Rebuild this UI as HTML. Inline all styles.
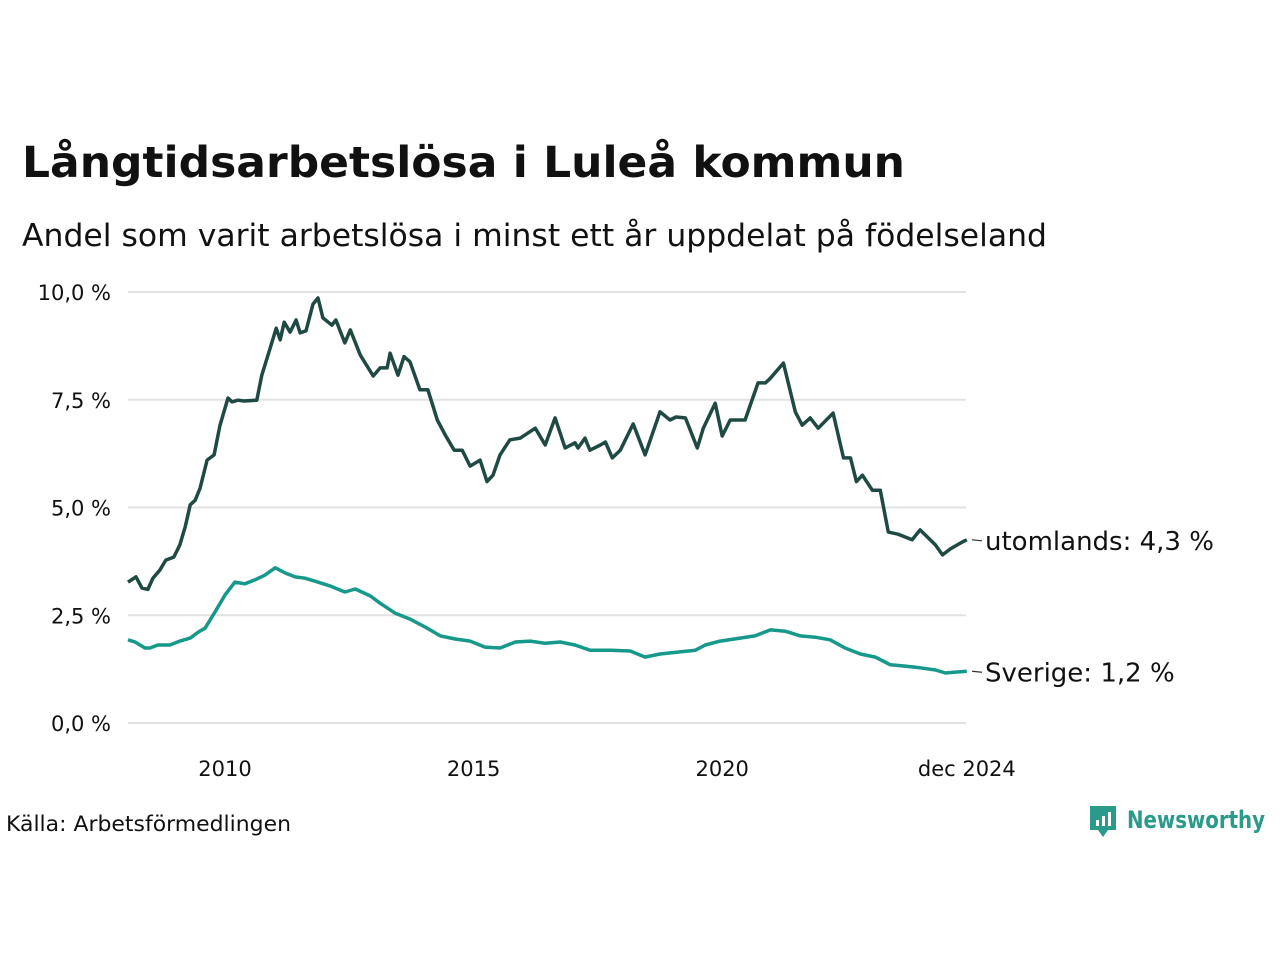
<!DOCTYPE html>
<html><head><meta charset="utf-8">
<style>
body{margin:0;background:#fff;font-family:"DejaVu Sans","Liberation Sans",sans-serif;}
#wrap{position:relative;width:1280px;height:960px;overflow:hidden;}
</style></head>
<body>
<div id="wrap">
<svg id="chart" width="1280" height="960" font-family="DejaVu Sans, Liberation Sans, sans-serif">
<text x="22" y="177" font-size="43" font-weight="bold" fill="#111" textLength="883" lengthAdjust="spacingAndGlyphs">Långtidsarbetslösa i Luleå kommun</text>
<text x="22" y="246" font-size="31" fill="#111" textLength="1025" lengthAdjust="spacingAndGlyphs">Andel som varit arbetslösa i minst ett år uppdelat på födelseland</text>
<g id="grid"></g>
<g id="lines"></g>
<text x="6" y="831" font-size="21" fill="#111" textLength="285" lengthAdjust="spacingAndGlyphs">Källa: Arbetsförmedlingen</text>
<g>
<path d="M1090 806 h26 v24 h-8 l-5 7 l-5 -7 h-8 z" fill="#2a9a8a"/>
<rect x="1096" y="820" width="3" height="6" fill="#fff"/><rect x="1102" y="816" width="3" height="10" fill="#fff"/><rect x="1108" y="812" width="3" height="14" fill="#fff"/>
<text x="1127" y="828" font-size="24" font-weight="bold" fill="#2a9a8a" textLength="138" lengthAdjust="spacingAndGlyphs">Newsworthy</text>
</g>
</svg>
</div>
<script>
const yTicks=[0,2.5,5,7.5,10];
const yTickLabels=["0,0 %","2,5 %","5,0 %","7,5 %","10,0 %"];
const xTicks=[2010,2015,2020,2024.92];
const xTickLabels=["2010","2015","2020","dec 2024"];
const utDates=[2008.05,2008.21,2008.33,2008.45,2008.55,2008.69,2008.81,2008.97,2009.09,2009.20,2009.30,2009.40,2009.50,2009.64,2009.78,2009.90,2010.06,2010.14,2010.26,2010.38,2010.64,2010.74,2010.91,2011.03,2011.11,2011.19,2011.31,2011.43,2011.51,2011.63,2011.77,2011.87,2011.97,2012.15,2012.23,2012.41,2012.52,2012.72,2012.98,2013.12,2013.26,2013.32,2013.48,2013.60,2013.72,2013.92,2014.08,2014.27,2014.43,2014.61,2014.77,2014.93,2015.13,2015.27,2015.39,2015.53,2015.73,2015.94,2016.24,2016.44,2016.64,2016.84,2017.04,2017.10,2017.24,2017.34,2017.55,2017.65,2017.79,2017.95,2018.21,2018.45,2018.75,2018.95,2019.07,2019.26,2019.50,2019.62,2019.86,2020.00,2020.16,2020.46,2020.72,2020.87,2020.97,2021.23,2021.47,2021.61,2021.77,2021.93,2022.23,2022.44,2022.58,2022.70,2022.82,2023.02,2023.18,2023.34,2023.54,2023.82,2023.98,2024.29,2024.43,2024.59,2024.83,2024.92];
const utValues=[3.27,3.39,3.13,3.1,3.36,3.55,3.78,3.85,4.13,4.55,5.06,5.17,5.45,6.1,6.22,6.91,7.54,7.45,7.49,7.47,7.49,8.07,8.7,9.16,8.89,9.3,9.07,9.35,9.05,9.1,9.72,9.86,9.4,9.23,9.35,8.82,9.12,8.54,8.05,8.24,8.24,8.58,8.07,8.5,8.38,7.73,7.73,7.03,6.68,6.33,6.33,5.96,6.1,5.6,5.75,6.22,6.57,6.61,6.84,6.45,7.08,6.38,6.5,6.38,6.61,6.33,6.45,6.52,6.15,6.33,6.94,6.22,7.22,7.03,7.1,7.08,6.38,6.84,7.42,6.66,7.03,7.03,7.89,7.89,8.0,8.35,7.22,6.91,7.08,6.84,7.19,6.15,6.15,5.6,5.75,5.4,5.4,4.43,4.38,4.25,4.48,4.13,3.9,4.04,4.2,4.25];
const seDates=[2008.05,2008.19,2008.39,2008.49,2008.65,2008.89,2009.09,2009.30,2009.46,2009.60,2009.80,2010.00,2010.20,2010.40,2010.60,2010.80,2011.01,2011.21,2011.41,2011.61,2011.81,2012.11,2012.41,2012.62,2012.92,2013.12,2013.42,2013.72,2014.02,2014.33,2014.63,2014.93,2015.23,2015.53,2015.84,2016.14,2016.44,2016.74,2017.04,2017.34,2017.75,2018.15,2018.45,2018.75,2019.15,2019.46,2019.66,2019.96,2020.36,2020.66,2020.97,2021.27,2021.57,2021.87,2022.17,2022.47,2022.78,2023.08,2023.38,2023.68,2023.98,2024.29,2024.49,2024.69,2024.92];
const seValues=[1.93,1.88,1.74,1.74,1.81,1.81,1.9,1.97,2.11,2.2,2.58,2.97,3.27,3.23,3.32,3.43,3.6,3.48,3.39,3.36,3.29,3.18,3.04,3.11,2.95,2.78,2.55,2.41,2.23,2.02,1.95,1.9,1.76,1.74,1.88,1.9,1.85,1.88,1.81,1.69,1.69,1.67,1.53,1.6,1.65,1.69,1.81,1.9,1.97,2.02,2.16,2.13,2.02,1.99,1.93,1.74,1.6,1.53,1.35,1.32,1.28,1.23,1.16,1.18,1.2];
const seriesLabels=["utomlands: 4,3 %","Sverige: 1,2 %"];

const NS="http://www.w3.org/2000/svg";
const X0=128,Y0=723;
function xs(t){return 225+(t-2010)*49.72;}
function ys(v){return Y0-v*43.1;}
const grid=document.getElementById('grid'),lines=document.getElementById('lines');
function mk(tag,attrs,parent){const e=document.createElementNS(NS,tag);for(const k in attrs)e.setAttribute(k,attrs[k]);parent.appendChild(e);return e;}
yTicks.forEach((v,i)=>{
  const l=mk('line',{x1:X0,x2:966,y1:ys(v),y2:ys(v),stroke:'#e2e2e5','stroke-width':2},grid);
  
  
  const t=mk('text',{x:111,y:ys(v)+8,'font-size':21,'text-anchor':'end',fill:'#111'},grid);
  t.textContent=yTickLabels[i];
  
  
});
xTicks.forEach((v,i)=>{
  const t=mk('text',{x:xs(v),y:776,'font-size':21,'text-anchor':'middle',fill:'#111'},grid);
  t.textContent=xTickLabels[i];
  
  
});
function draw(d,v,color,name,label){
  const p=d.map((t,i)=>(i?'L':'M')+xs(t).toFixed(1)+' '+ys(v[i]).toFixed(1)).join(' ');
  const path=mk('path',{d:p,fill:'none',stroke:color,'stroke-width':3.5,'stroke-linejoin':'round'},lines);
  
  
  const last=v[v.length-1],ly=ys(last);
  mk('line',{x1:972,x2:982,y1:ly,y2:ly+1,stroke:'#333','stroke-width':1.2},lines);
  const t=mk('text',{x:985,y:ly+10,'font-size':26,fill:'#111'},lines);
  t.textContent=label;
  
  
}
draw(utDates,utValues,'#1f4a44','utomlands',seriesLabels[0]);
draw(seDates,seValues,'#16988a','sverige',seriesLabels[1]);
</script>
</body></html>
